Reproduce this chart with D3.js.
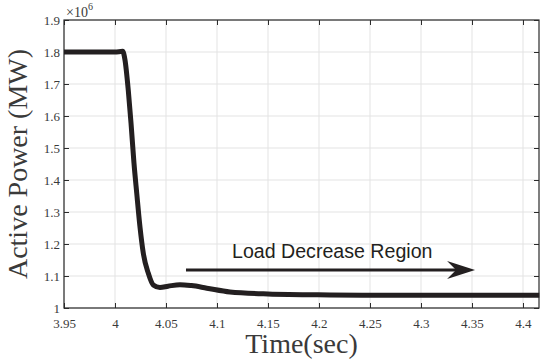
<!DOCTYPE html>
<html>
<head>
<meta charset="utf-8">
<script src="https://cdn.jsdelivr.net/npm/d3@7"></script>
<style>
	body { margin: 0; background: #fff; }
	svg { display: block; }
	.grid line { stroke: #e3e3e3; stroke-width: 1; }
	.frame { fill: none; stroke: #2b2b2b; stroke-width: 1.2; }
</style>
</head>
<body>
<div id="chart"></div>
<script>
// time (sec) and active power (x10^6 MW)
var times  = [3.95, 4.000, 4.0075, 4.0098, 4.0130, 4.0157, 4.0186, 4.0213, 4.0245, 4.0277, 4.0326, 4.0375, 4.0441, 4.052, 4.0637, 4.075, 4.09, 4.1127, 4.15, 4.2108, 4.25, 4.3, 4.35, 4.416];
var power  = [1.800, 1.800, 1.802, 1.775, 1.681, 1.578, 1.453, 1.359, 1.253, 1.172, 1.109, 1.072, 1.064, 1.068, 1.073, 1.070, 1.062, 1.050, 1.044, 1.041, 1.040, 1.040, 1.040, 1.040];
var xTicks = [3.95, 4, 4.05, 4.1, 4.15, 4.2, 4.25, 4.3, 4.35, 4.4];
var yTicks = [1, 1.1, 1.2, 1.3, 1.4, 1.5, 1.6, 1.7, 1.8, 1.9];
var arrowFrom = [4.0696, 1.119];
var arrowTo   = [4.353, 1.119];
var noteText  = "Load Decrease Region";

var W = 540, H = 362;
var pL = 64, pR = 539, pT = 20, pB = 308;
var serif = "Liberation Serif, DejaVu Serif, serif";

var svg = d3.select("#chart").append("svg")
	.attr("width", W)
	.attr("height", H);

var x = d3.scaleLinear().domain([3.95, 4.4157]).range([pL, pR]);
var y = d3.scaleLinear().domain([1, 1.9]).range([pB, pT]);

var fmt = function (d) { return String(+d.toFixed(2)); };

// grid
svg.append("g").attr("class", "grid")
	.selectAll("line").data(xTicks).enter().append("line")
	.attr("x1", d => x(d)).attr("x2", d => x(d)).attr("y1", pT).attr("y2", pB);
svg.append("g").attr("class", "grid")
	.selectAll("line").data(yTicks).enter().append("line")
	.attr("x1", pL).attr("x2", pR).attr("y1", d => y(d)).attr("y2", d => y(d));

// axes (ticks inward, box on)
var axB = svg.append("g").attr("transform", "translate(0," + pB + ")")
	.call(d3.axisBottom(x).tickValues(xTicks).tickSize(-5).tickPadding(11).tickFormat(fmt));
var axL = svg.append("g").attr("transform", "translate(" + pL + ",0)")
	.call(d3.axisLeft(y).tickValues(yTicks).tickSize(-5).tickPadding(4).tickFormat(fmt));
var axT = svg.append("g").attr("transform", "translate(0," + pT + ")")
	.call(d3.axisTop(x).tickValues(xTicks).tickSize(-5).tickFormat(""));
var axR = svg.append("g").attr("transform", "translate(" + pR + ",0)")
	.call(d3.axisRight(y).tickValues(yTicks).tickSize(-5).tickFormat(""));
[axB, axL, axT, axR].forEach(function (a) {
	a.select(".domain").remove();
	a.attr("font-family", serif).attr("font-size", 13);
	a.selectAll(".tick line").attr("stroke", "#2b2b2b");
	a.selectAll(".tick text").attr("fill", "#3a3a3a");
});

svg.append("rect").attr("class", "frame")
	.attr("x", pL).attr("y", pT).attr("width", pR - pL).attr("height", pB - pT);

// exponent label
var ex = svg.append("text")
	.attr("x", 66).attr("y", 17)
	.attr("font-family", serif).attr("font-size", 14).attr("fill", "#3a3a3a");
ex.append("tspan").text("\u00d710");
ex.append("tspan").attr("dy", -7).attr("font-size", 10).text("6");

// curve
var line = d3.line()
	.x(function (d, i) { return x(times[i]); })
	.y(function (d) { return y(d); })
	.curve(d3.curveMonotoneX);

svg.append("path")
	.datum(power)
	.attr("d", line)
	.attr("fill", "none")
	.attr("stroke", "#231f20")
	.attr("stroke-width", 5)
	.attr("stroke-linejoin", "round");

// annotation arrow
var ax1 = x(arrowFrom[0]), ax2 = x(arrowTo[0]), ay = y(arrowFrom[1]);
svg.append("line")
	.attr("x1", ax1).attr("x2", ax2 - 10).attr("y1", ay).attr("y2", ay)
	.attr("stroke", "#231f20").attr("stroke-width", 3);
svg.append("path")
	.attr("d", "M" + ax2 + "," + ay + " L" + (ax2 - 28) + "," + (ay - 9) + " L" + (ax2 - 19) + "," + ay + " L" + (ax2 - 28) + "," + (ay + 9) + " Z")
	.attr("fill", "#231f20");
svg.append("text")
	.attr("x", 232).attr("y", ay - 12)
	.attr("font-family", "Liberation Sans, Arial, sans-serif").attr("font-size", 19.6).attr("fill", "#231f20")
	.text(noteText);

// axis titles
svg.append("text")
	.attr("x", (pL + pR) / 2).attr("y", 353)
	.attr("text-anchor", "middle")
	.attr("font-family", serif).attr("font-size", 28).attr("fill", "#3a3a3a")
	.text("Time(sec)");
svg.append("text")
	.attr("transform", "translate(27," + ((pT + pB) / 2) + ") rotate(-90)")
	.attr("text-anchor", "middle")
	.attr("font-family", serif).attr("font-size", 28).attr("fill", "#3a3a3a")
	.text("Active Power (MW)");
</script>
</body>
</html>
